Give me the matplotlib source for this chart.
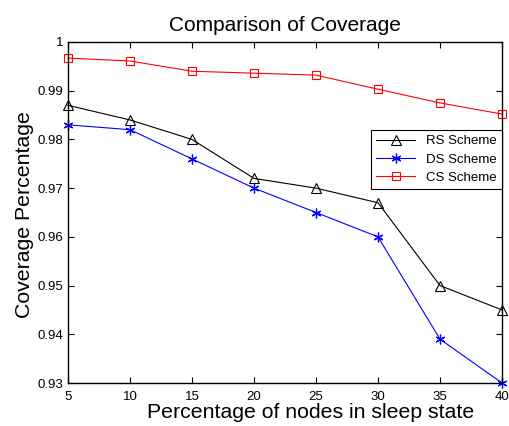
import matplotlib
matplotlib.use('Agg')
import matplotlib.pyplot as plt

plt.rcParams['font.family'] = ['Liberation Sans', 'DejaVu Sans']

# Data
sleep_pct = [5, 10, 15, 20, 25, 30, 35, 40]
rs_scheme = [0.987, 0.984, 0.980, 0.972, 0.970, 0.967, 0.950, 0.945]
ds_scheme = [0.983, 0.982, 0.976, 0.970, 0.965, 0.960, 0.939, 0.930]
cs_scheme = [0.9967, 0.9961, 0.9940, 0.9936, 0.9932, 0.9903, 0.9875, 0.9852]

fig = plt.figure(figsize=(5.10, 4.26), dpi=100)
ax = fig.add_axes([68 / 510, 1 - 383 / 426, (502 - 68) / 510, (383 - 42) / 426])

asterisk = (6, 2, 0)
ax.plot(sleep_pct, rs_scheme, '-^', color='black', linewidth=0.8,
        markersize=7, markerfacecolor='none', markeredgewidth=0.8,
        label='RS Scheme', clip_on=False)
ax.plot(sleep_pct, ds_scheme, '-', marker=asterisk, color='blue', linewidth=0.8,
        markersize=7, markeredgewidth=0.9, label='DS Scheme', clip_on=False)
ax.plot(sleep_pct, cs_scheme, '-s', color='red', linewidth=0.8,
        markersize=6, markerfacecolor='none', markeredgewidth=0.8,
        label='CS Scheme', clip_on=False)

ax.set_xlim(5, 40)
ax.set_ylim(0.93, 1.0)
ax.set_xticks(sleep_pct)
ax.set_yticks([0.93, 0.94, 0.95, 0.96, 0.97, 0.98, 0.99, 1.0])
ax.set_yticklabels(['0.93', '0.94', '0.95', '0.96', '0.97', '0.98', '0.99', '1'])
ax.tick_params(direction='in', top=True, right=True, labelsize=9.5, length=4)
ax.tick_params(axis='x', pad=6)
for s in ax.spines.values():
    s.set_linewidth(1.0)

ax.set_xlabel('Percentage of nodes in sleep state', fontsize=15.3)
ax.xaxis.set_label_coords(0.558, -0.058)
ax.set_ylabel('Coverage Percentage', fontsize=15.3)
ax.yaxis.set_label_coords(-0.078, 0.493)
ax.set_title('Comparison of Coverage', fontsize=15, pad=8)

leg = ax.legend(loc='upper right', bbox_to_anchor=(1.0, 0.742), fontsize=9.5,
                fancybox=False, framealpha=1, borderaxespad=0,
                handlelength=3.0, edgecolor='black', labelspacing=0.45)
leg.get_frame().set_linewidth(0.8)

fig.savefig('out.png', dpi=100)
